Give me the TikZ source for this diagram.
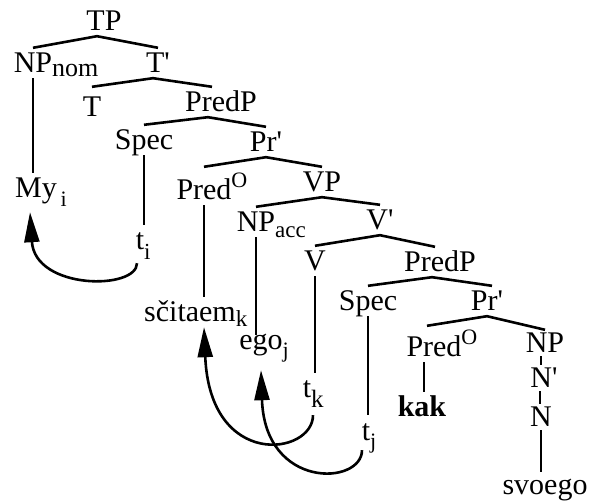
\documentclass[tikz,border=0pt]{standalone}
\usepackage{fontspec}
\setmainfont{Liberation Serif}
\usetikzlibrary{arrows.meta}
\newcommand{\lowr}[3]{\rlap{\raisebox{-#1pt}{\fontsize{#2}{#2}\selectfont #3}}}
\newcommand{\upO}{\rlap{\raisebox{12pt}{\fontsize{22}{22}\selectfont O}}}
\newcommand{\brk}{\textquotesingle}
\begin{document}
\begin{tikzpicture}[x=1pt,y=-1pt,
  lbl/.style={anchor=base,inner xsep=0pt,inner ysep=5pt,text height=20pt,text depth=0pt,font=\fontsize{30}{36}\selectfont},
  tight/.style={inner ysep=3pt},
  br/.style={line width=2.6pt,line join=round},
  mv/.style={line width=2.6pt,-{Triangle[length=30pt,width=15pt]}}]
\useasboundingbox (0,0) rectangle (589,502);
\node[lbl] (tp) at (104,31) {TP};
\node[lbl] (npnom) at (33,73) {NP\lowr{4}{26}{nom}};
\node[lbl] (tbar) at (158,73) {T\brk};
\node[lbl] (t) at (92,117) {T};
\node[lbl] (predp) at (221,112) {PredP};
\node[lbl] (spec) at (144,150) {Spec};
\node[lbl] (prbar) at (266,152) {Pr\brk};
\node[lbl] (my) at (36,198) {My\lowr{9}{22}{\,i}};
\node[lbl] (pred) at (204,200) {Pred\upO};
\node[lbl] (vp) at (322,192) {VP};
\node[lbl] (ti) at (140,250) {t\lowr{10}{23}{i}};
\node[lbl] (npacc) at (256,232) {NP\lowr{6}{23}{acc}};
\node[lbl] (vbar) at (380,230) {V\brk};
\node[lbl] (v) at (315,271) {V};
\node[lbl] (predpb) at (440,272) {PredP};
\node[lbl] (scitaem) at (190,322) {sčitaem\lowr{5}{23}{k}};
\node[lbl] (specb) at (368,311) {Spec};
\node[lbl] (prbarb) at (487,311) {Pr\brk};
\node[lbl,text height=10pt] (ego) at (261,350) {ego\lowr{8}{22}{j}};
\node[lbl] (predb) at (434,357) {Pred\upO};
\node[lbl,tight] (np) at (545,353) {NP};
\node[lbl] (tk) at (307,398) {t\lowr{10}{25}{k}};
\node[lbl] (kak) at (422,417) {\textbf{kak}};
\node[lbl,tight] (nbar) at (544,388) {N\brk};
\node[lbl,tight] (n) at (541,427) {N};
\node[lbl] (tj) at (366,440) {t\lowr{8}{22}{j}};
\node[lbl,text height=17pt] (svoego) at (545,494) {svoego};
\draw[br] (npnom.north) -- ([xshift=-7pt]tp.south) -- (tbar.north);
\draw[br] ([yshift=5pt]t.north) -- ([xshift=-5pt]tbar.south) -- ([xshift=-9pt]predp.north);
\draw[br] (spec.north) -- ([xshift=-13pt]predp.south) -- (prbar.north);
\draw[br] ([yshift=8pt]pred.north) -- (prbar.south) -- (vp.north);
\draw[br] (npacc.north) -- (vp.south) -- (vbar.north);
\draw[br] (v.north) -- (vbar.south) -- ([xshift=-5pt]predpb.north);
\draw[br] (specb.north) -- ([xshift=-8pt]predpb.south) -- ([xshift=5pt]prbarb.north);
\draw[br] ([xshift=-7pt,yshift=6pt]predb.north) -- (prbarb.south) -- (np.north);
\draw[br] (npnom.south) -- (npnom.south |- my.north);
\draw[br] (spec.south) -- (spec.south |- ti.north);
\draw[br] (pred.south) -- (pred.south |- scitaem.north);
\draw[br] (npacc.south) -- (npacc.south |- ego.north);
\draw[br] (v.south) -- (v.south |- tk.north);
\draw[br] (specb.south) -- (specb.south |- tj.north);
\draw[br] ([xshift=-10pt]predb.south) -- ([xshift=-10pt]predb.south |- kak.north);
\draw[br] ([xshift=-4pt]np.south) -- ([xshift=-4pt]np.south |- nbar.north);
\draw[br] ([xshift=-4pt]nbar.south) -- ([xshift=-4pt]nbar.south |- n.north);
\draw[br] (n.south) -- (n.south |- svoego.north);
\draw[mv] ([xshift=-3pt,yshift=-8pt]ti.south) .. controls +(0,27) and +(5,78) .. ([xshift=-6pt,yshift=-9pt]my.south);
\draw[mv] ([xshift=6pt,yshift=-12pt]tk.south) .. controls +(0,40) and +(6,143) .. (pred.south |- scitaem.south);
\draw[mv] ([xshift=-4pt,yshift=-5pt]tj.south) .. controls +(0,35) and +(4,120) .. ([yshift=-15pt]ego.south);
\end{tikzpicture}
\end{document}
